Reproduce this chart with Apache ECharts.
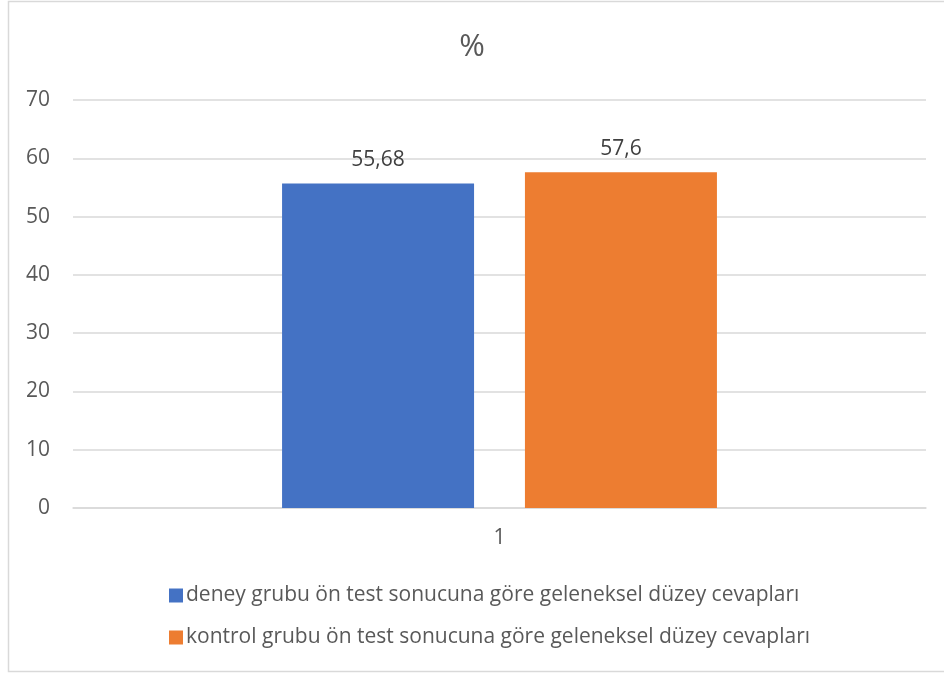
<!DOCTYPE html>
<html>
<head>
<meta charset="utf-8">
<script src="https://cdn.jsdelivr.net/npm/echarts@6/dist/echarts.min.js"></script>
<style>
  html, body { margin: 0; padding: 0; background: #ffffff; }
  #chart { width: 944px; height: 675px; }
</style>
</head>
<body>
<div id="chart"></div>
<script>
// Chart data
const categories = ['1'];
const seriesNames = [
  'deney grubu ön test sonucuna göre geleneksel düzey cevapları',
  'kontrol grubu ön test sonucuna göre geleneksel düzey cevapları'
];
const deneyValues = [55.68];
const kontrolValues = [57.6];
const seriesColors = ['#4472C4', '#ED7D31'];

const FONT = '"Open Sans", "Noto Sans", sans-serif';
const TEXT = '#595959';

const labelFmt = p => String(p.value).replace('.', ',');

const chart = echarts.init(document.getElementById('chart'), null, { renderer: 'canvas' });
chart.setOption({
  animation: false,
  backgroundColor: '#ffffff',
  title: {
    text: '%',
    left: 'center',
    top: 27,
    textStyle: { fontFamily: FONT, fontSize: 31, fontWeight: 'normal', color: TEXT }
  },
  graphic: [{
    type: 'rect',
    shape: { x: 8.5, y: 1.5, width: 940, height: 670 },
    style: { fill: 'none', stroke: '#d9d9d9', lineWidth: 1.5 },
    silent: true
  }],
  grid: { left: 73, right: 18, top: 100, bottom: 167, containLabel: false },
  legend: {
    orient: 'vertical',
    left: 164,
    top: 580,
    itemWidth: 14,
    itemHeight: 14,
    itemGap: 21,
    icon: 'rect',
    textStyle: { fontFamily: FONT, fontSize: 21, color: TEXT, padding: [0, 0, 0, -2] },
    data: seriesNames
  },
  xAxis: {
    type: 'category',
    data: categories,
    axisLine: { show: true, lineStyle: { color: '#d9d9d9', width: 1.5 } },
    axisTick: { show: false },
    axisLabel: { fontFamily: FONT, fontSize: 21, color: TEXT, margin: 20 }
  },
  yAxis: {
    type: 'value',
    min: 0,
    max: 70,
    interval: 10,
    axisLine: { show: false },
    axisTick: { show: false },
    splitLine: { lineStyle: { color: '#d9d9d9', width: 1.5 } },
    axisLabel: { fontFamily: FONT, fontSize: 21, color: TEXT, margin: 23 }
  },
  series: [
    {
      name: seriesNames[0],
      type: 'bar',
      data: deneyValues,
      barWidth: 192,
      barGap: '26.5%',
      itemStyle: { color: seriesColors[0] },
      label: { show: true, position: 'top', distance: 13, formatter: labelFmt,
               fontFamily: FONT, fontSize: 21, color: '#404040' }
    },
    {
      name: seriesNames[1],
      type: 'bar',
      data: kontrolValues,
      barWidth: 192,
      itemStyle: { color: seriesColors[1] },
      label: { show: true, position: 'top', distance: 13, formatter: labelFmt,
               fontFamily: FONT, fontSize: 21, color: '#404040' }
    }
  ]
});
</script>
</body>
</html>
